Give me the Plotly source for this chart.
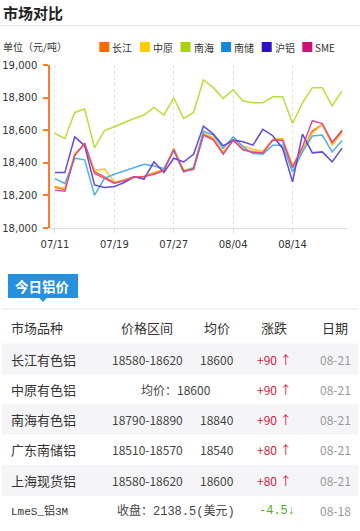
import plotly.graph_objects as go

# ---------------- data ----------------
dates = ["07/11","07/12","07/13","07/14","07/15","07/18","07/19","07/20","07/21","07/22",
         "07/25","07/26","07/27","07/28","07/29","08/01","08/02","08/03","08/04","08/05",
         "08/08","08/09","08/10","08/11","08/14","08/15","08/16","08/17","08/18","08/21"]
tick_idx = [0, 6, 12, 18, 24]

series_names = ["长江", "中原", "南海", "南储", "沪铝", "SME"]
changjiang = [18250,18236,18452,18515,18345,18314,18277,18297,18314,18314,18335,18355,18488,18350,18365,
              18574,18549,18460,18539,18482,18467,18463,18539,18539,18375,18480,18595,18635,18522,18600]
zhongyuan = [18256,18242,18457,18512,18355,18361,18283,18293,18310,18318,18340,18361,18484,18355,18370,
             18584,18553,18467,18539,18504,18482,18471,18545,18549,18385,18488,18582,18637,18508,18584]
nanhai = [18580,18549,18709,18730,18492,18598,18621,18648,18672,18693,18740,18693,18799,18672,18709,
          18908,18861,18795,18848,18779,18768,18768,18805,18805,18641,18768,18861,18861,18750,18840]
nanchu = [18303,18273,18428,18418,18201,18305,18330,18350,18369,18391,18380,18365,18472,18344,18370,
          18594,18570,18488,18559,18498,18457,18453,18508,18508,18344,18467,18564,18570,18467,18537]
hulv = [18340,18340,18559,18505,18264,18248,18254,18279,18314,18300,18406,18340,18428,18405,18452,
        18625,18576,18504,18539,18529,18508,18605,18566,18488,18283,18576,18461,18467,18406,18490]
sme = [18232,18226,18445,18520,18334,18307,18275,18290,18312,18316,18330,18352,18480,18348,18360,
       18570,18539,18453,18539,18480,18463,18460,18539,18539,18370,18498,18658,18641,18525,18596]
series_values = [changjiang, zhongyuan, nanhai, nanchu, hulv, sme]

y_ticks = [18000, 18200, 18400, 18600, 18800, 19000]

# table data
table_headers = ["市场品种", "价格区间", "均价", "涨跌", "日期"]
markets = ["长江有色铝", "中原有色铝", "南海有色铝", "广东南储铝", "上海现货铝", "LmeS_铝3M"]
price_ranges = ["18580-18620", None, "18790-18890", "18510-18570", "18580-18620", None]
avg_prices = ["18600", None, "18840", "18540", "18600", None]
merged_text = [None, "均价：18600", None, None, None, "收盘：2138.5(美元)"]
changes = ["+90", "+90", "+90", "+80", "+80", "-4.5"]
change_dir = ["up", "up", "up", "up", "up", "down"]
table_dates = ["08-21", "08-21", "08-21", "08-21", "08-21", "08-18"]

# ---------------- styles ----------------
line_colors = ["#ff5a1a", "#ffc21a", "#b5de2e", "#45aee6", "#5a3ee0", "#e0468e"]
legend_colors = ["#ff6a00", "#ffcc00", "#aad400", "#1188dd", "#2a10cc", "#cc1177"]
CJK = "Noto Sans CJK SC, sans-serif"

W, H = 360, 531
ML, MR, MT, MB = 50, 13, 65, 303
PW = W - ML - MR
PH = H - MT - MB


def px(x):
    return (x - ML) / PW


def py(y):
    return (H - MB - y) / PH


fig = go.Figure()
for name, vals, col in zip(series_names, series_values, line_colors):
    fig.add_trace(go.Scatter(
        x=list(range(len(dates))), y=vals, name=name, mode="lines",
        line=dict(color=col, width=1.5), opacity=0.95,
        hoverinfo="skip", showlegend=False))

shapes = []
annotations = []


def text(x, y, s, size, color, anchor="left", family=CJK):
    annotations.append(dict(x=px(x), y=py(y), xref="paper", yref="paper", text=s,
                            showarrow=False, xanchor=anchor, yanchor="middle",
                            xshift=-2 if anchor == "left" else 0,
                            font=dict(family=family, size=size, color=color)))


# header
text(3, 12, "<b>市场对比</b>", 15, "#222")
shapes.append(dict(type="line", xref="paper", yref="paper", x0=px(0), x1=px(360), y0=py(25.5), y1=py(25.5),
                   line=dict(color="#e6e6e6", width=1)))
text(3, 46, "单位（元/吨）", 10, "#333")

# manual legend
for i, (name, col) in enumerate(zip(series_names, legend_colors)):
    x0 = 99.3 + 40.6 * i
    shapes.append(dict(type="rect", xref="paper", yref="paper", x0=px(x0), x1=px(x0 + 10),
                       y0=py(52), y1=py(42), fillcolor=col, line=dict(width=0)))
    text(x0 + 13, 47, name, 10, "#333")

# blue tab
shapes.append(dict(type="rect", xref="paper", yref="paper", x0=px(8), x1=px(78), y0=py(298), y1=py(274),
                   fillcolor="#2590e0", line=dict(width=0)))
shapes.append(dict(type="path", xref="paper", yref="paper",
                   path=f"M {px(39)} {py(297.5)} L {px(47)} {py(297.5)} L {px(43)} {py(302)} Z",
                   fillcolor="#2590e0", line=dict(width=0)))
text(42, 286, "<b>今日铝价</b>", 13.5, "#ffffff", anchor="center")
shapes.append(dict(type="line", xref="paper", yref="paper", x0=px(2), x1=px(358), y0=py(309), y1=py(309),
                   line=dict(color="#e8e8ec", width=1)))

# table
col_x = [11, 147, 217, 274, 335]
header_y = 327
for j, h in enumerate(table_headers):
    text(col_x[j], header_y, h, 13, "#333", anchor="left" if j == 0 else "center")

row_y = [359 + 30.3 * i for i in range(len(markets))]
for i in range(len(markets)):
    yc = row_y[i]
    if i % 2 == 0:
        shapes.append(dict(type="rect", xref="paper", yref="paper", x0=px(2), x1=px(358),
                           y0=py(yc + 15.5), y1=py(yc - 15.5), fillcolor="#f5f5f8",
                           line=dict(width=0), layer="below"))
    last = markets[i].startswith("Lme")
    fam = "Liberation Mono, Noto Sans CJK SC, monospace" if last else CJK
    text(11, yc, markets[i], 11 if last else 13, "#333", family=fam)
    if merged_text[i] is not None:
        text(176, yc, merged_text[i], 12, "#444", anchor="center", family=fam)
    else:
        text(col_x[1], yc, price_ranges[i], 12, "#444", anchor="center")
        text(col_x[2], yc, avg_prices[i], 12, "#444", anchor="center")
    up = change_dir[i] == "up"
    ccol = "#d41c3a" if up else "#4cae22"
    arrow = "↑" if up else "↓"
    text(col_x[3] + (0 if up else 3), yc, f"{changes[i]} {arrow}" if up else f"{changes[i]}{arrow}",
         12, ccol, anchor="center", family=fam)
    text(col_x[4], yc, table_dates[i], 12, "#999", anchor="center")

fig.update_layout(
    width=W, height=H,
    margin=dict(l=ML, r=MR, t=MT, b=MB, pad=0),
    paper_bgcolor="#ffffff", plot_bgcolor="#ffffff",
    showlegend=False,
    shapes=shapes, annotations=annotations,
    xaxis=dict(range=[-0.5, len(dates) - 0.5], tickmode="array",
               tickvals=tick_idx, ticktext=[dates[k] for k in tick_idx],
               showgrid=True, gridcolor="#e0e0e0", griddash="dot", gridwidth=1,
               showline=True, linecolor="#dcdcdc", linewidth=1,
               ticks="outside", ticklen=4, tickcolor="#e0e0e0",
               ticklabelstandoff=3,
               tickfont=dict(family="DejaVu Sans", size=10, color="#333"),
               zeroline=False, fixedrange=True, automargin=False),
    yaxis=dict(range=[18000, 19000], tickmode="array", tickvals=y_ticks, tickformat=",",
               showgrid=False, zeroline=False,
               showline=True, linecolor="#ff7a2a", linewidth=1.5,
               ticks="outside", ticklen=5, tickcolor="#ff7a2a", tickwidth=1.5,
               ticklabelstandoff=4,
               tickfont=dict(family="DejaVu Sans", size=10, color="#333"),
               fixedrange=True, automargin=False),
)

fig.write_html("out.html")
